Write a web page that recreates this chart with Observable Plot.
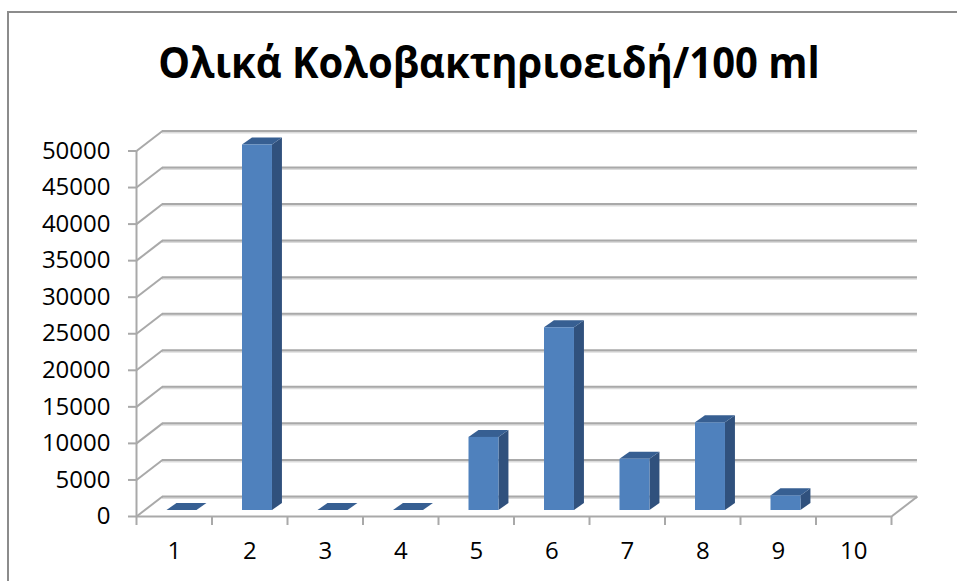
<!DOCTYPE html>
<html>
<head>
<meta charset="utf-8">
<script src="https://cdn.jsdelivr.net/npm/d3@7"></script>
<script src="https://cdn.jsdelivr.net/npm/@observablehq/plot@0.6"></script>
<style>
  html, body { margin: 0; padding: 0; background: #fff; }
  #chart { position: relative; width: 957px; height: 581px; overflow: hidden; font-family: "Open Sans", sans-serif; }
  #chart .edge { position: absolute; left: 7px; top: 11px; right: 0; bottom: 0; border-left: 2px solid #8c8c8c; border-top: 2px solid #8c8c8c; }
  #chart h1 { position: absolute; left: 0; top: 35px; width: 978px; margin: 0; text-align: center; font-size: 43px; line-height: 54px; font-weight: 700; color: #000; transform: scaleX(0.93); transform-origin: 489px 0; white-space: nowrap; }
  #chart svg { position: absolute; left: 0; top: 0; }
</style>
</head>
<body>
<div id="chart">
  <div class="edge"></div>
  <h1>Ολικά Κολοβακτηριοειδή/100 ml</h1>
</div>
<script>
// Total coliforms per 100 ml, one value per sample; sample 10 has no bar.
const samples = [1, 2, 3, 4, 5, 6, 7, 8, 9, 10];
const coliforms = [0, 50000, 0, 0, 10000, 25000, 7000, 12000, 2000, null];
const yTicks = d3.range(0, 50001, 5000);
const xBoundaries = d3.range(0, 11);

// Pseudo-3D depth, in scale units: the back wall and the depth of a column.
const wallX = 0.344, wallY = 2740;
const barStart = 0.404, barWidth = 0.397;
const depthX = 0.132, depthY = 960;
const lift = -6;

const gridColor = "#a9a9a9";
const gridShadow = "#dcdcdc";
const textColor = "#000";

const bars = samples
  .map((s, i) => ({s, v: coliforms[i], x1: s - 1 + barStart, x2: s - 1 + barStart + barWidth}))
  .filter(d => d.v !== null);

// Each visible side of a column is a parallelogram, stored as a two-point area.
const sideFace = bars.flatMap(d => [
  {s: d.s, x: d.x2, y1: 0, y2: d.v},
  {s: d.s, x: d.x2 + depthX, y1: depthY, y2: d.v + depthY}
]);
const topFace = bars.flatMap(d => [
  {s: d.s, y: d.v, x1: d.x1, x2: d.x2},
  {s: d.s, y: d.v + depthY, x1: d.x1 + depthX, x2: d.x2 + depthX}
]);

const floorEdge = [{x1: 10, y1: 0, x2: 10 + wallX, y2: wallY}];

const plot = Plot.plot({
  width: 957,
  height: 581,
  marginLeft: 136,
  marginRight: 66,
  marginTop: 150.5,
  marginBottom: 65,
  x: {domain: [0, 10], axis: null},
  y: {domain: [0, 50000], axis: null},
  style: {background: "transparent", fontFamily: "'Open Sans', sans-serif"},
  marks: [
    // Back wall gridlines, with their soft shadow underneath
    Plot.ruleY(yTicks, {x1: wallX, x2: 10 + wallX, y: d => d + wallY, stroke: gridShadow, strokeWidth: 2, dy: 1.5}),
    Plot.ruleY(yTicks, {x1: wallX, x2: 10 + wallX, y: d => d + wallY, stroke: gridColor, strokeWidth: 2}),
    // Side wall and floor edges running back from the axes
    Plot.link(yTicks, {x1: () => 0, y1: d => d, x2: () => wallX, y2: d => d + wallY, stroke: gridColor, strokeWidth: 2}),
    Plot.link(floorEdge, {x1: "x1", y1: "y1", x2: "x2", y2: "y2", stroke: gridColor, strokeWidth: 2}),
    // Columns
    Plot.area(sideFace, {x1: "x", y1: "y1", y2: "y2", z: "s", fill: "#30517d", dy: lift}),
    Plot.areaX(topFace, {y: "y", x1: "x1", x2: "x2", z: "s", fill: "#375f92", dy: lift}),
    Plot.rectY(bars, {x1: "x1", x2: "x2", y1: () => 0, y2: "v", fill: "#4f81bd", dy: lift}),
    // Axes
    Plot.ruleY([0], {stroke: gridColor, strokeWidth: 2}),
    Plot.ruleX([0], {y1: 0, y2: 50000, stroke: gridColor, strokeWidth: 2}),
    Plot.axisY({ticks: yTicks, tickFormat: String, tickSize: 8, tickPadding: 18, stroke: gridColor, strokeWidth: 2, fontSize: 24, fill: textColor, label: null}),
    Plot.axisX({ticks: xBoundaries, tickFormat: () => "", tickSize: 9, stroke: gridColor, strokeWidth: 2, label: null}),
    Plot.text(samples, {x: d => d - 0.5, y: () => 0, text: String, dy: 35, fontSize: 24, fill: textColor})
  ]
});
document.getElementById("chart").appendChild(plot);
</script>
</body>
</html>
